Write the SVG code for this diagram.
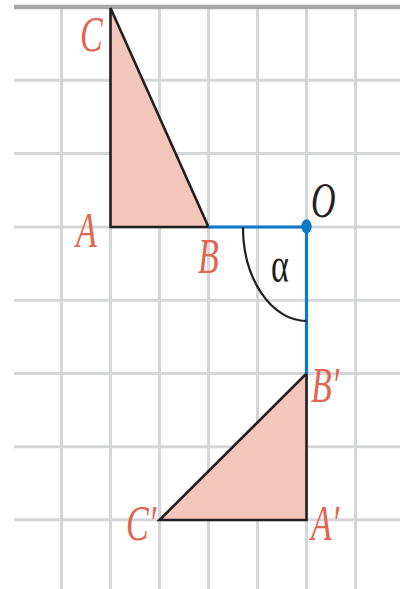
<svg xmlns="http://www.w3.org/2000/svg" width="400" height="589" viewBox="0 0 400 589">
<style>
.grid line{stroke:#d5d6d8;stroke-width:3}
.tri{fill:#f2c6ba;stroke:#231f20;stroke-width:2.6;stroke-linejoin:miter}
.blue{stroke:#0a7ac8;stroke-width:3.2;fill:none}
.lbl{font-family:"Liberation Serif",serif;font-style:italic;font-size:34px;fill:#e06552}
.dark{font-family:"Liberation Serif",serif;font-size:34px;fill:#231f20}
</style>
<rect width="400" height="589" fill="#ffffff"/>
<g id="grid" class="grid">
<line x1="61.5" y1="7" x2="61.5" y2="589"/>
<line x1="110.5" y1="7" x2="110.5" y2="589"/>
<line x1="159.5" y1="7" x2="159.5" y2="589"/>
<line x1="208.5" y1="7" x2="208.5" y2="589"/>
<line x1="257.5" y1="7" x2="257.5" y2="589"/>
<line x1="306.5" y1="7" x2="306.5" y2="589"/>
<line x1="355.5" y1="7" x2="355.5" y2="589"/>
<line x1="14" y1="80.3" x2="400" y2="80.3"/>
<line x1="14" y1="153.6" x2="400" y2="153.6"/>
<line x1="14" y1="226.9" x2="400" y2="226.9"/>
<line x1="14" y1="300.2" x2="400" y2="300.2"/>
<line x1="14" y1="373.5" x2="400" y2="373.5"/>
<line x1="14" y1="446.8" x2="400" y2="446.8"/>
<line x1="14" y1="519.8" x2="400" y2="519.8"/>
<line x1="14" y1="7" x2="400" y2="7" style="stroke:#a7a7a9;stroke-width:4.6"/>
</g>
<g id="triangle-ABC">
<polygon class="tri" points="110.5,8 110.5,227 208.5,227"/>
</g>
<g id="triangle-A1B1C1">
<polygon class="tri" points="306.5,373.5 306.5,520 159.5,520"/>
</g>
<g id="connectors">
<polyline class="blue" points="208.5,227 306.5,227 306.5,373.5"/>
<path d="M 243 227 A 63.5 94 0 0 0 306.5 321" fill="none" stroke="#231f20" stroke-width="2.2"/>
</g>
<g id="point-O">
<ellipse cx="306.5" cy="226.5" rx="5.2" ry="7.2" fill="#0a7ac8"/>
<text class="dark" style="font-style:italic" transform="translate(311,217) scale(1,1.5)">O</text>
</g>
<g id="angle-alpha">
<text class="dark" transform="translate(271,282) scale(1,1.5)">α</text>
</g>
<g id="labels">
<text class="lbl" transform="translate(80,51) scale(1,1.5)">C</text>
<text class="lbl" transform="translate(76,247) scale(1,1.5)">A</text>
<text class="lbl" transform="translate(198,273) scale(1,1.5)">B</text>
<text class="lbl" transform="translate(311,402) scale(1,1.5)">B′</text>
<text class="lbl" transform="translate(126,540) scale(1,1.5)">C′</text>
<text class="lbl" transform="translate(311,540) scale(1,1.5)">A′</text>
</g>
</svg>
